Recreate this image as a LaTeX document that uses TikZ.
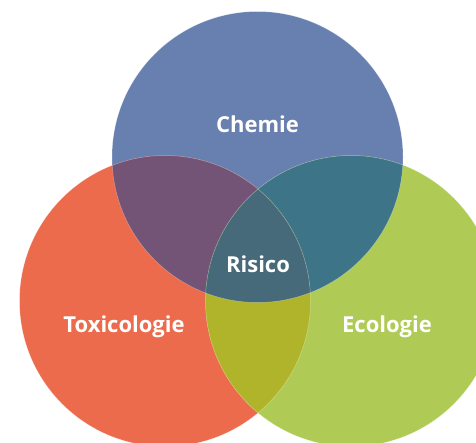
\documentclass[tikz,border=0pt]{standalone}
\usepackage{fontspec}
\setmainfont{Open Sans}
\definecolor{chemie}{HTML}{6880B0}
\definecolor{toxi}{HTML}{EC6B4C}
\definecolor{eco}{HTML}{B0CB55}
\definecolor{chemtoxi}{HTML}{745476}
\definecolor{chemeco}{HTML}{3E7488}
\definecolor{toxieco}{HTML}{B0B42A}
\definecolor{risico}{HTML}{466A7A}
\begin{document}
\begin{tikzpicture}[x=1pt,y=-1pt,label/.style={text=white,font=\bfseries\fontsize{22}{26}\selectfont,inner sep=0pt},rim/.style={draw=white,draw opacity=0.35,line width=0.5pt}]
        \useasboundingbox (0,0) rectangle (476,442);
        \clip (0,0) rectangle (476,442);
        \def\rad{145.5pt}
        \coordinate (c) at (257.5,157); \coordinate (t) at (165,301); \coordinate (e) at (351,301);
        \fill[chemie] (c) circle[radius=\rad];
        \fill[toxi] (t) circle[radius=\rad];
        \fill[eco] (e) circle[radius=\rad];
        % overlaps
        \begin{scope}\clip (c) circle[radius=\rad];\fill[chemtoxi] (t) circle[radius=\rad];\fill[chemeco] (e) circle[radius=\rad];\end{scope}
        \begin{scope}\clip (t) circle[radius=\rad];\fill[toxieco] (e) circle[radius=\rad];\end{scope}
        \begin{scope}\clip (c) circle[radius=\rad];\clip (t) circle[radius=\rad];\fill[risico] (e) circle[radius=\rad];\end{scope}
        \draw[rim] (c) circle[radius=\rad] (t) circle[radius=\rad] (e) circle[radius=\rad];
        \node[label] (chem) at (257.5,124) {Chemie};
        \node[label] (ris) at (258,264) {Risico};
        \node[label] (tox) at (124,327) {Toxicologie};
        \node[label] (ecol) at (387,327) {Ecologie};
\end{tikzpicture}
\end{document}
